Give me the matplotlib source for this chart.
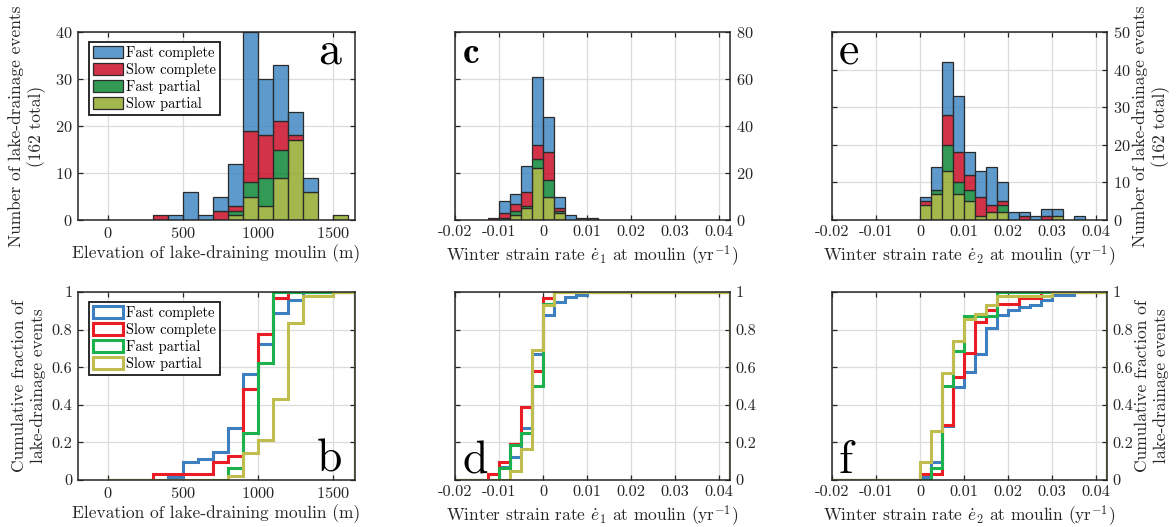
"""Lake-drainage events vs moulin elevation and winter strain rates: stacked counts + CDFs."""

import numpy as np
import matplotlib

matplotlib.use("Agg")
import matplotlib.pyplot as plt
from matplotlib.colors import to_rgba
from matplotlib.patches import Patch

plt.rcParams["font.family"] = "cmr10"
plt.rcParams["mathtext.fontset"] = "cm"
plt.rcParams["axes.unicode_minus"] = False
plt.rcParams["axes.formatter.use_mathtext"] = True

CATEGORIES = ["Fast complete", "Slow complete", "Fast partial", "Slow partial"]
BAR_COLORS = ["#3681be", "#c9001a", "#00812a", "#8ca61f"]
LINE_COLORS = ["#3d7fc1", "#ec1c24", "#1bb14c", "#bfbd4e"]

# elevation bins: 0, 100, ..., 1600 m
elev_edges = np.arange(0, 1700, 100)
elev_fast_complete = [0, 0, 0, 0, 1, 6, 1, 3, 9, 21, 12, 12, 5, 3, 0, 0]
elev_slow_complete = [0, 0, 0, 1, 0, 0, 0, 2, 1, 11, 9, 6, 1, 0, 0, 0]
elev_fast_partial = [0, 0, 0, 0, 0, 0, 0, 0, 1, 3, 6, 6, 0, 0, 0, 0]
elev_slow_partial = [0, 0, 0, 0, 0, 0, 0, 0, 1, 5, 3, 9, 17, 6, 0, 1]

# strain-rate bins: -0.02 ... 0.0425 /yr, width 0.0025
strain_edges = np.linspace(-0.02, 0.0425, 26)
e1_fast_complete = [0, 0, 0, 0, 5, 4, 11, 29, 15, 5, 2, 1, 1, 0, 0, 0, 0, 0, 0, 0, 0, 0, 0, 0, 0]
e1_slow_complete = [0, 0, 0, 1, 2, 3, 6, 6, 12, 1, 0, 0, 0, 0, 0, 0, 0, 0, 0, 0, 0, 0, 0, 0, 0]
e1_fast_partial = [0, 0, 0, 0, 1, 2, 1, 4, 7, 1, 0, 0, 0, 0, 0, 0, 0, 0, 0, 0, 0, 0, 0, 0, 0]
e1_slow_partial = [0, 0, 0, 0, 0, 2, 5, 22, 10, 3, 0, 0, 0, 0, 0, 0, 0, 0, 0, 0, 0, 0, 0, 0, 0]

e2_fast_complete = [0, 0, 0, 0, 0, 0, 0, 0, 1, 6, 14, 15, 6, 7, 10, 5, 2, 1, 1, 2, 2, 0, 1, 0, 0]
e2_slow_complete = [0, 0, 0, 0, 0, 0, 0, 0, 1, 0, 8, 8, 4, 5, 2, 1, 0, 1, 0, 1, 0, 0, 0, 0, 0]
e2_fast_partial = [0, 0, 0, 0, 0, 0, 0, 0, 0, 1, 7, 3, 3, 0, 0, 2, 0, 0, 0, 0, 0, 0, 0, 0, 0]
e2_slow_partial = [0, 0, 0, 0, 0, 0, 0, 0, 4, 7, 13, 7, 5, 1, 2, 2, 0, 0, 0, 0, 1, 0, 0, 0, 0]

elev_ticks = [0, 500, 1000, 1500]
strain_ticks = [-0.02, -0.01, 0, 0.01, 0.02, 0.03, 0.04]
strain_ticklabels = ["-0.02", "-0.01", "0", "0.01", "0.02", "0.03", "0.04"]
frac_ticks = [0, 0.2, 0.4, 0.6, 0.8, 1]
frac_ticklabels = ["0", "0.2", "0.4", "0.6", "0.8", "1"]

COUNT_LABEL = "Number of lake-drainage events\n(162 total)"
FRAC_LABEL = "Cumulative fraction of\nlake-drainage events"
ELEV_XLABEL = "Elevation of lake-draining moulin (m)"
E1_XLABEL = r"Winter strain rate $\dot{e}_1$ at moulin (yr$^{-1}$)"
E2_XLABEL = r"Winter strain rate $\dot{e}_2$ at moulin (yr$^{-1}$)"

TXT = "#262626"
W, H = 1176, 527


def _axes(fig, x0, x1, y0, y1):
    """Axes from pixel box (top-left origin)."""
    return fig.add_axes([x0 / W, (H - y1) / H, (x1 - x0) / W, (y1 - y0) / H])


def _style(ax, label_right):
    ax.set_axisbelow(True)
    ax.grid(True, color="#dcdcdc", lw=0.9)
    ax.tick_params(direction="in", length=3.5, width=0.9, top=True, right=True, left=True,
                   labelsize=11.8, colors=TXT, labelleft=not label_right,
                   labelright=label_right, pad=4)
    for s in ax.spines.values():
        s.set_color(TXT)
        s.set_linewidth(1.1)
    if label_right:
        ax.yaxis.set_label_position("right")


def _ylabel(ax, text, x):
    ax.set_ylabel(text, fontsize=12.5, color=TXT, linespacing=1.25)
    ax.yaxis.set_label_coords(x, 0.5)


def _legend(ax, handles):
    leg = ax.legend(handles, CATEGORIES, loc="upper left", bbox_to_anchor=(0.04, 0.947),
                    borderaxespad=0, fancybox=False, edgecolor="#1a1a1a", framealpha=1,
                    fontsize=10.4, handlelength=2.05, handleheight=0.9, handletextpad=0.25,
                    labelspacing=0.2, borderpad=0.28)
    leg.get_frame().set_linewidth(1.3)


def _stacked(ax, edges, series):
    lefts = edges[:-1]
    widths = np.diff(edges)
    bottom = np.zeros(len(lefts))
    handles = {}
    # slow partial at the base, fast complete on top
    for i in [3, 2, 1, 0]:
        counts = np.asarray(series[i], dtype=float)
        keep = counts > 0
        handles[i] = ax.bar(lefts[keep], counts[keep], width=widths[keep], bottom=bottom[keep],
                            align="edge", color=to_rgba(BAR_COLORS[i], 0.8),
                            edgecolor="#2b2b2b", linewidth=0.9)
        bottom += counts
    return [handles[i] for i in range(4)]


def _cdf(ax, edges, series, xmax):
    for i in range(4):
        frac = np.cumsum(series[i]) / np.sum(series[i])
        e = np.asarray(edges, dtype=float)
        if e[-1] < xmax:
            e = np.append(e, xmax)
            frac = np.append(frac, frac[-1])
        ax.stairs(frac, e, baseline=0, color=LINE_COLORS[i], lw=2.2)


def _letter(ax, s, x, y, ha, family="cmr10", size=33):
    ax.text(x, y, s, transform=ax.transAxes, ha=ha, va="baseline", fontsize=size,
            family=family, color="black")


fig = plt.figure(figsize=(W / 100, H / 100), dpi=100)

elev = [elev_fast_complete, elev_slow_complete, elev_fast_partial, elev_slow_partial]
e1 = [e1_fast_complete, e1_slow_complete, e1_fast_partial, e1_slow_partial]
e2 = [e2_fast_complete, e2_slow_complete, e2_fast_partial, e2_slow_partial]

ELEV_XLIM = (-200, 1650)
STRAIN_XLIM = (-0.02, 0.0425)
TOP = (32, 220)
BOT = (292, 480)
COLS = [(78, 355), (455, 730), (832, 1107)]
LEFT_LABEL_X = -0.115

# a
ax = _axes(fig, *COLS[0], *TOP)
_style(ax, False)
bars = _stacked(ax, elev_edges, elev)
ax.set_xlim(*ELEV_XLIM)
ax.set_ylim(0, 40)
ax.set_xticks(elev_ticks)
ax.set_yticks([0, 10, 20, 30, 40])
ax.set_xlabel(ELEV_XLABEL, fontsize=12.5, color=TXT, labelpad=3)
_ylabel(ax, COUNT_LABEL, LEFT_LABEL_X)
_legend(ax, bars)
_letter(ax, "a", 0.95, 0.835, "right")

# c
ax = _axes(fig, *COLS[1], *TOP)
_style(ax, True)
_stacked(ax, strain_edges, e1)
ax.set_xlim(*STRAIN_XLIM)
ax.set_ylim(0, 80)
ax.set_xticks(strain_ticks, strain_ticklabels)
ax.set_yticks([0, 20, 40, 60, 80])
ax.set_xlabel(E1_XLABEL, fontsize=12.5, color=TXT, labelpad=3)
_letter(ax, "c", 0.028, 0.835, "left", family="cmb10", size=27)

# e
ax = _axes(fig, *COLS[2], *TOP)
_style(ax, True)
_stacked(ax, strain_edges, e2)
ax.set_xlim(*STRAIN_XLIM)
ax.set_ylim(0, 50)
ax.set_xticks(strain_ticks, strain_ticklabels)
ax.set_yticks([0, 10, 20, 30, 40, 50])
ax.set_xlabel(E2_XLABEL, fontsize=12.5, color=TXT, labelpad=3)
_ylabel(ax, COUNT_LABEL, 1.091)
_letter(ax, "e", 0.023, 0.835, "left")

# b
ax = _axes(fig, *COLS[0], *BOT)
_style(ax, False)
_cdf(ax, elev_edges, elev, ELEV_XLIM[1])
ax.set_xlim(*ELEV_XLIM)
ax.set_ylim(0, 1)
ax.set_xticks(elev_ticks)
ax.set_yticks(frac_ticks, frac_ticklabels)
ax.set_xlabel(ELEV_XLABEL, fontsize=12.5, color=TXT, labelpad=3)
_ylabel(ax, FRAC_LABEL, LEFT_LABEL_X)
_legend(ax, [Patch(facecolor="none", edgecolor=c, lw=2.2) for c in LINE_COLORS])
_letter(ax, "b", 0.952, 0.044, "right")

# d
ax = _axes(fig, *COLS[1], *BOT)
_style(ax, True)
_cdf(ax, strain_edges, e1, STRAIN_XLIM[1])
ax.set_xlim(*STRAIN_XLIM)
ax.set_ylim(0, 1)
ax.set_xticks(strain_ticks, strain_ticklabels)
ax.set_yticks(frac_ticks, frac_ticklabels)
ax.set_xlabel(E1_XLABEL, fontsize=12.5, color=TXT, labelpad=3)
_letter(ax, "d", 0.028, 0.037, "left")

# f
ax = _axes(fig, *COLS[2], *BOT)
_style(ax, True)
_cdf(ax, strain_edges, e2, STRAIN_XLIM[1])
ax.set_xlim(*STRAIN_XLIM)
ax.set_ylim(0, 1)
ax.set_xticks(strain_ticks, strain_ticklabels)
ax.set_yticks(frac_ticks, frac_ticklabels)
ax.set_xlabel(E2_XLABEL, fontsize=12.5, color=TXT, labelpad=3)
_ylabel(ax, FRAC_LABEL, 1.10)
_letter(ax, "f", 0.023, 0.037, "left")

fig.savefig("out.png", dpi=100)
